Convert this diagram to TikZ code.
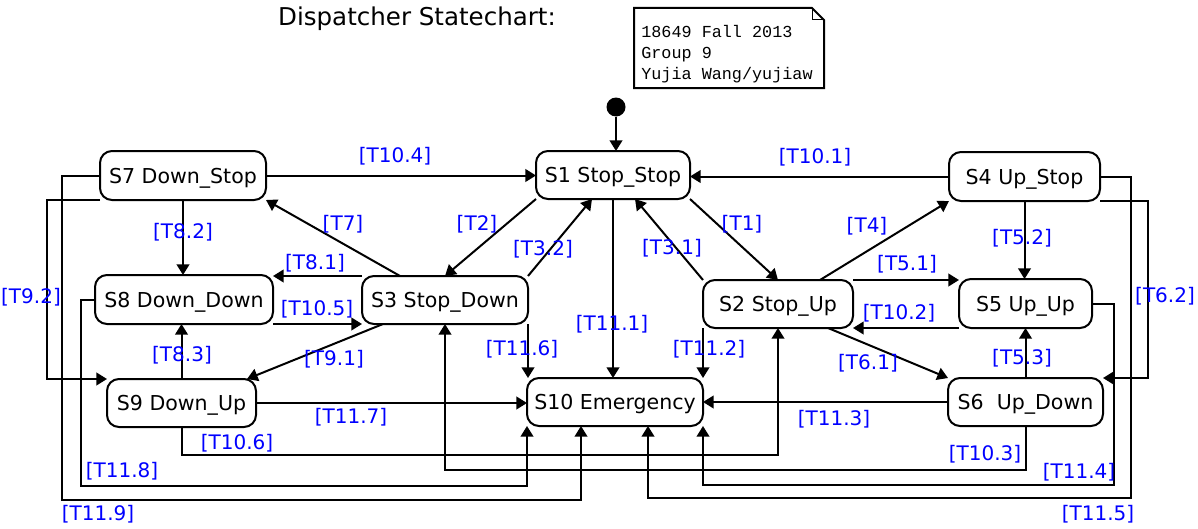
\documentclass[tikz,border=0pt]{standalone}
\usepackage{fontspec}
\setmainfont{DejaVu Sans}
\newfontfamily\notefont{Liberation Mono}
\usetikzlibrary{arrows.meta,calc}
\begin{document}
\begin{tikzpicture}[x=0.75pt,y=-0.75pt,
  state/.style={draw, rounded corners=9pt, line width=1.5pt, inner sep=0pt, outer sep=0pt,
    text depth=0pt, font=\fontsize{15.4}{17}\selectfont},
  lbl/.style={text=blue, font=\fontsize{15}{17}\selectfont, inner sep=0pt},
  arr/.style={-{Triangle[length=8pt,width=9.5pt]}, line width=1.5pt},
  wire/.style={line width=1.5pt}]
\useasboundingbox (0,0) rectangle (1198,528);

% title and note
\node[font=\fontsize{18.4}{22}\selectfont] (title) at (417,19) {Dispatcher Statechart:};
\node[align=left, anchor=west, inner sep=0pt, font=\notefont\fontsize{12.6}{15.75}\selectfont] (note) at (641,54)
  {18649 Fall 2013\\Group 9\\Yujia Wang/yujiaw};
\draw[line width=1.5pt] (634,8) -- (812,8) -- (824,20) -- (824,88) -- (634,88) -- cycle;
\draw[line width=0.6pt] (812,8) -- (812,19) -- (823,19);

% states
\node[state, minimum width=166*0.75pt, minimum height=49*0.75pt] (s7) at (183,175.5) {S7 Down\_Stop};
\node[state, minimum width=178*0.75pt, minimum height=49*0.75pt] (s8) at (184,299.5) {S8 Down\_Down};
\node[state, minimum width=149*0.75pt, minimum height=48*0.75pt] (s9) at (181.5,403) {S9 Down\_Up};
\node[state, minimum width=166*0.75pt, minimum height=48*0.75pt] (s3) at (445,300) {S3 Stop\_Down};
\node[state, minimum width=154*0.75pt, minimum height=48*0.75pt] (s1) at (613,175) {S1 Stop\_Stop};
\node[state, minimum width=150*0.75pt, minimum height=48*0.75pt] (s2) at (778,304) {S2 Stop\_Up};
\node[state, minimum width=151*0.75pt, minimum height=49*0.75pt] (s4) at (1024.5,176.5) {S4 Up\_Stop};
\node[state, minimum width=133*0.75pt, minimum height=49*0.75pt] (s5) at (1025.5,303.5) {S5 Up\_Up};
\node[state, minimum width=155*0.75pt, minimum height=48*0.75pt] (s6) at (1025.5,402) {S6\ \ Up\_Down};
\node[state, minimum width=176*0.75pt, minimum height=48*0.75pt] (s10) at (615,402) {S10 Emergency};

% initial state
\node[circle, fill=black, minimum size=19*0.75pt, inner sep=0pt] (init) at (616,107) {};
\draw[arr] (init) -- (init |- s1.north);

% transitions
\draw[arr] (s7.east) -- (s7.east -| s1.west);
\draw[arr] (s4.west) -- (s4.west -| s1.east);
\draw[arr] (s1.south west) -- (s3.north);
\draw[arr] (s3.north east) -- ($(s1.south)+(-21,0)$);
\draw[arr] ($(s3.north west)+(38,0)$) -- (s7.south east);
\draw[arr] (s3.north west) -- (s3.north west -| s8.east);
\draw[arr] (s8.south east) -- (s8.south east -| s3.west);
\draw[arr] (s7.south) -- (s7.south |- s8.north);
\draw[arr] (s9.north) -- (s9.north |- s8.south);
\draw[arr] ($(s3.south west)+(21,0)$) -- ($(s9.north east)+(-9,0)$);
\draw[arr] (s7.south west) -- ++(-53,0) |- (s9.north west);
\draw[arr] (s7.west) -| (62,500) -| ($(s10.south)+(-34,0)$);
\draw[arr] (s8.west) -| (81,486) -| (s10.south west);
\draw[arr] (s9.south) |- ($(s2.south)+(0,127)$) -- (s2.south);
\draw[arr] (s9.east) -- (s9.east -| s10.west);
\draw[arr] (s3.south east) -- (s3.south east |- s10.north);
\draw[arr] (s6.south) |- ($(s3.south)+(0,146)$) -- (s3.south);
\draw[arr] (s5.east) -| (1114,485) -| (s10.south east);
\draw[arr] (s4.east) -| (1131,498) -| ($(s10.south)+(33,0)$);
\draw[arr] (s4.south east) -- ++(48,0) |- (s6.north east);
\draw[arr] (s1.south) -- (s1.south |- s10.north);
\draw[arr] (s2.south west) -- (s2.south west |- s10.north);
\draw[arr] (s6.west) -- (s6.west -| s10.east);
\draw[arr] (s1.south east) -- (s2.north);
\draw[arr] (s2.north west) -- ($(s1.south)+(22,0)$);
\draw[arr] ($(s2.north east)+(-33,0)$) -- (s4.south west);
\draw[arr] (s2.north east) -- (s2.north east -| s5.west);
\draw[arr] (s5.south west) -- (s5.south west -| s2.east);
\draw[arr] (s4.south) -- (s4.south |- s5.north);
\draw[arr] (s6.north) -- (s6.north |- s5.south);
\draw[arr] ($(s2.south east)+(-25,0)$) -- (s6.north west);

% labels
\node[lbl] (lT104) at (395,156) {[T10.4]};
\node[lbl] (lT101) at (815,157) {[T10.1]};
\node[lbl] (lT82) at (183,232) {[T8.2]};
\node[lbl] (lT7) at (343,224) {[T7]};
\node[lbl] (lT2) at (477,224) {[T2]};
\node[lbl] (lT32) at (543,249) {[T3.2]};
\node[lbl] (lT31) at (672,248) {[T3.1]};
\node[lbl] (lT1) at (742,224) {[T1]};
\node[lbl] (lT4) at (867,226) {[T4]};
\node[lbl] (lT52) at (1022,238) {[T5.2]};
\node[lbl] (lT92) at (31,297) {[T9.2]};
\node[lbl] (lT81) at (315,263) {[T8.1]};
\node[lbl] (lT105) at (317,309) {[T10.5]};
\node[lbl] (lT51) at (907,264) {[T5.1]};
\node[lbl] (lT102) at (899,313) {[T10.2]};
\node[lbl] (lT62) at (1165,296) {[T6.2]};
\node[lbl] (lT111) at (612,324) {[T11.1]};
\node[lbl] (lT116) at (522,349) {[T11.6]};
\node[lbl] (lT112) at (709,349) {[T11.2]};
\node[lbl] (lT83) at (182,355) {[T8.3]};
\node[lbl] (lT91) at (334,359) {[T9.1]};
\node[lbl] (lT61) at (868,363) {[T6.1]};
\node[lbl] (lT53) at (1022,358) {[T5.3]};
\node[lbl] (lT117) at (351,417) {[T11.7]};
\node[lbl] (lT113) at (834,419) {[T11.3]};
\node[lbl] (lT106) at (237,443) {[T10.6]};
\node[lbl] (lT103) at (985,454) {[T10.3]};
\node[lbl] (lT118) at (122,471) {[T11.8]};
\node[lbl] (lT114) at (1079,472) {[T11.4]};
\node[lbl] (lT119) at (98,514) {[T11.9]};
\node[lbl] (lT115) at (1098,514) {[T11.5]};
\end{tikzpicture}
\end{document}
